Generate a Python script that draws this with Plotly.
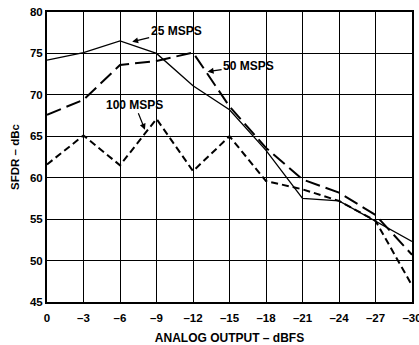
import plotly.graph_objects as go

x_vals = [0, -3, -6, -9, -12, -15, -18, -21, -24, -27, -30]
sfdr_25 = [74.2, 75.1, 76.5, 75.0, 71.1, 68.2, 63.3, 57.5, 57.2, 54.8, 52.3]
sfdr_50 = [67.6, 69.4, 73.6, 74.1, 75.1, 68.6, 63.6, 59.8, 58.2, 55.5, 50.7]
sfdr_100 = [61.6, 65.1, 61.5, 67.1, 60.8, 65.0, 59.6, 58.6, 57.2, 54.8, 47.0]

x_ticks = [0, -3, -6, -9, -12, -15, -18, -21, -24, -27, -30]
x_ticktext = ["0", "–3", "–6", "–9", "–12", "–15", "–18", "–21", "–24", "–27", "–30"]
y_ticks = [45, 50, 55, 60, 65, 70, 75, 80]
y_ticktext = ["45", "50", "55", "60", "65", "70", "75", "80"]

FONT = "Liberation Sans, Arial, sans-serif"

fig = go.Figure()
fig.add_trace(go.Scatter(x=x_vals, y=sfdr_25, mode="lines", name="25 MSPS",
                         line=dict(color="black", width=1.3)))
fig.add_trace(go.Scatter(x=x_vals, y=sfdr_50, mode="lines", name="50 MSPS",
                         line=dict(color="black", width=2, dash="15px,6px")))
fig.add_trace(go.Scatter(x=x_vals, y=sfdr_100, mode="lines", name="100 MSPS",
                         line=dict(color="black", width=2, dash="7px,4px")))

ann_font = dict(family=FONT, size=12, color="black")
fig.add_annotation(x=-7.0, y=76.4, text="<b>25 MSPS</b>", showarrow=True, ax=44, ay=-11,
                   arrowhead=2, arrowsize=1, arrowwidth=1.2, arrowcolor="black", font=ann_font)
fig.add_annotation(x=-13.2, y=72.8, text="<b>50 MSPS</b>", showarrow=True, ax=41, ay=-6,
                   arrowhead=2, arrowsize=1, arrowwidth=1.2, arrowcolor="black", font=ann_font)
fig.add_annotation(x=-8.05, y=65.8, text="<b>100 MSPS</b>", showarrow=True, ax=-10, ay=-25,
                   arrowhead=2, arrowsize=1, arrowwidth=1.2, arrowcolor="black", font=ann_font)

fig.update_layout(
    width=419, height=345,
    margin=dict(l=47, r=7, t=12, b=43, autoexpand=False),
    paper_bgcolor="white", plot_bgcolor="white",
    showlegend=False,
    font=dict(family=FONT, size=11, color="black"),
    xaxis=dict(range=[0, -30], tickvals=x_ticks,
               ticktext=["<b>%s</b>" % t for t in x_ticktext],
               ticklabeloverflow="allow", ticklabelstandoff=4, automargin=False,
               showgrid=True, gridcolor="black", gridwidth=1,
               showline=True, linecolor="black", linewidth=2, mirror=True,
               ticks="", zeroline=False,
               tickfont=dict(family=FONT, size=11.5, color="black"),
               title=dict(text="<b>ANALOG OUTPUT – dBFS</b>", standoff=12,
                          font=dict(family=FONT, size=12))),
    yaxis=dict(range=[45, 80], tickvals=y_ticks,
               ticktext=["<b>%s</b>" % t for t in y_ticktext],
               ticklabeloverflow="allow", automargin=False,
               showgrid=True, gridcolor="black", gridwidth=1,
               showline=True, linecolor="black", linewidth=2, mirror=True,
               ticks="", zeroline=False,
               tickfont=dict(family=FONT, size=11.5, color="black"),
               title=dict(text="<b>SFDR – dBc</b>", standoff=8,
                          font=dict(family=FONT, size=11.5))),
)

fig.write_html("out.html", config={"displayModeBar": False},
               post_script="document.body.style.margin='0px';")
